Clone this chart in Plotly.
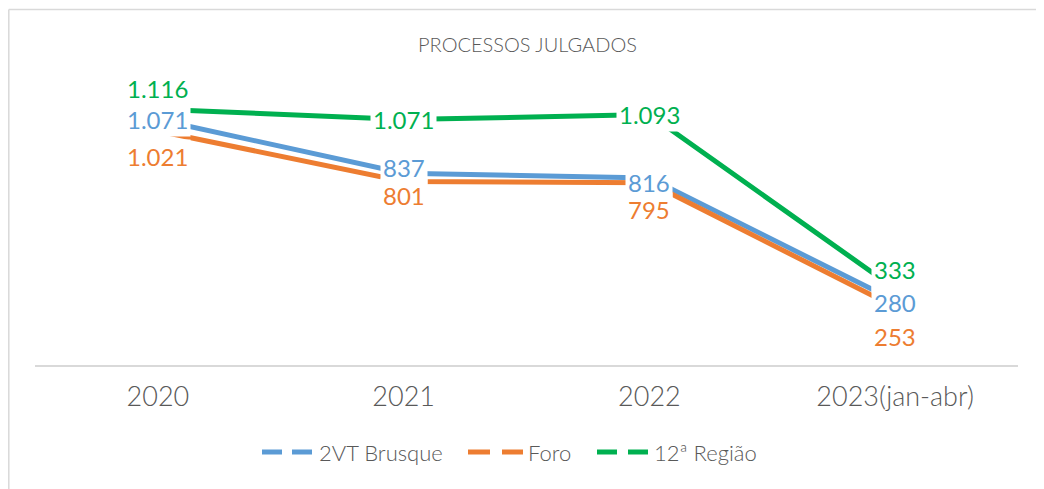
import plotly.graph_objects as go

# ---- data ----
categories = ["2020", "2021", "2022", "2023(jan-abr)"]
brusque = [1071, 837, 816, 280]
foro = [1021, 801, 795, 253]
regiao = [1116, 1071, 1093, 333]
series_names = ["2VT Brusque", "Foro", "12ª Região"]
title_text = "PROCESSOS JULGADOS"

# ---- styling ----
COLORS = ["#5B9BD5", "#ED7D31", "#00B050"]
LABEL_SHIFT = [
    [0, 6, -4, -2],        # 2VT Brusque
    [-25, -14, -27, -29],  # Foro
    [21, 0, 0, 20],        # 12ª Região
]
LABEL_BOX_H = [
    [None, None, None, None],
    [None, None, None, None],
    [None, None, None, 42],
]
DRAW_ORDER = [1, 0, 2]
FONT = "Lato"
GREY = "#595959"
BORDER = "#D9D9D9"

# page is offset by the default 8px body margin
OFF = 8
PAGE_W, PAGE_H = 1044, 489
W, H = PAGE_W - OFF, PAGE_H - OFF
PLOT_X0, PLOT_X1, PLOT_Y0, PLOT_Y1 = 35, 1018, 90, 365  # page coords
L, R, T, B = PLOT_X0 - OFF, PAGE_W - PLOT_X1, PLOT_Y0 - OFF, PAGE_H - PLOT_Y1


def px(x):
    return (x - PLOT_X0) / (PLOT_X1 - PLOT_X0)


def py(y):
    return (PLOT_Y1 - y) / (PLOT_Y1 - PLOT_Y0)


def fmt(v):
    return f"{v:,}".replace(",", ".")


fig = go.Figure()
all_series = [brusque, foro, regiao]
for name, vals, col in zip(series_names, all_series, COLORS):
    fig.add_trace(go.Scatter(
        x=categories, y=vals, mode="lines", name=name,
        line=dict(color=col, width=5), showlegend=False, hoverinfo="skip",
    ))

annotations = []
for k in DRAW_ORDER:
    vals, col, shifts, boxh = all_series[k], COLORS[k], LABEL_SHIFT[k], LABEL_BOX_H[k]
    for i, (v, s, bh) in enumerate(zip(vals, shifts, boxh)):
        a = dict(
            x=i, y=v, xref="x", yref="y", text=fmt(v), showarrow=False,
            xanchor="center", yanchor="middle", yshift=s,
            font=dict(family=FONT, size=24, color=col),
            bgcolor="white", borderpad=2,
        )
        if bh:
            a["height"] = bh
            a["valign"] = "middle"
        annotations.append(a)

# title
annotations.append(dict(
    x=px(527), y=py(44), xref="paper", yref="paper", text=title_text,
    showarrow=False, xanchor="center", yanchor="middle",
    font=dict(family=FONT, size=20, color=GREY, weight=300),
))

# manual legend
shapes = []
legend_items = [
    (262, 282, 292, 312, 317),
    (468, 490, 502, 523, 526),
    (597, 617, 628, 648, 652),
]
ly = py(452)
for name, col, (a0, a1, b0, b1, tx) in zip(series_names, COLORS, legend_items):
    for s0, s1 in ((a0, a1), (b0, b1)):
        shapes.append(dict(type="line", xref="paper", yref="paper",
                           x0=px(s0), x1=px(s1), y0=ly, y1=ly,
                           line=dict(color=col, width=5)))
    annotations.append(dict(
        x=px(tx), y=ly, xref="paper", yref="paper", text=name,
        showarrow=False, xanchor="left", yanchor="middle",
        font=dict(family=FONT, size=22, color=GREY, weight=300),
    ))

# chart border (left and top visible)
shapes.append(dict(type="line", xref="paper", yref="paper",
                   x0=px(OFF + 0.8), x1=px(OFF + 0.8), y0=py(9.5), y1=py(PAGE_H + 5),
                   line=dict(color=BORDER, width=1.5)))
shapes.append(dict(type="line", xref="paper", yref="paper",
                   x0=px(OFF + 0.8), x1=px(PAGE_W + 5), y0=py(9.5), y1=py(9.5),
                   line=dict(color=BORDER, width=1.5)))

fig.update_layout(
    width=W, height=H, autosize=False,
    margin=dict(l=L, r=R, t=T, b=B),
    paper_bgcolor="white", plot_bgcolor="white",
    showlegend=False,
    annotations=annotations, shapes=shapes,
    xaxis=dict(type="category", range=[-0.5, 3.5], showline=True,
               linecolor=BORDER, linewidth=1.5, showgrid=False, ticks="",
               tickfont=dict(family=FONT, size=27, color=GREY, weight=300),
               ticklabelstandoff=7, fixedrange=True),
    yaxis=dict(range=[0, 1200], visible=False, fixedrange=True),
)

fig.write_html("out.html", config={"displayModeBar": False})
